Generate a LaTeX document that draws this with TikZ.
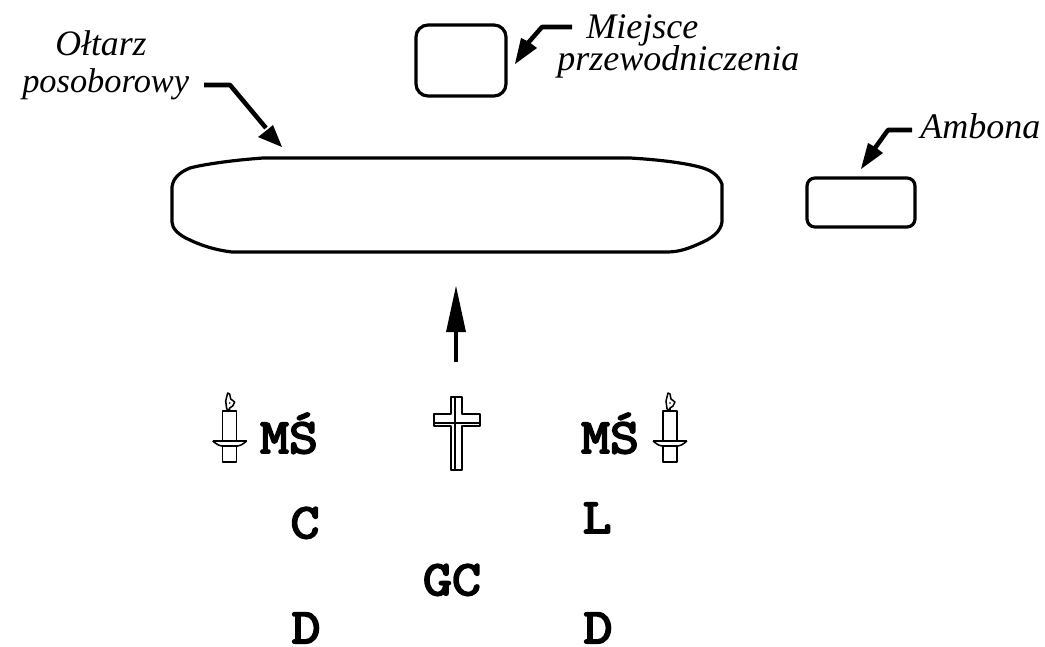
\documentclass[tikz,border=0pt]{standalone}
\usepackage{fontspec}
\setmainfont{Liberation Serif}
\newfontfamily\slabfont[FakeBold=4,FakeStretch=1.14]{Latin Modern Mono}
\begin{document}
\begin{tikzpicture}[x=0.75pt,y=-0.75pt,line join=round,
  outline/.style={draw=black,line width=2.4pt},
  leader/.style={draw=black,line width=3.4pt},
  headfill/.style={fill=black,draw=none},
  thin part/.style={draw=black,line width=1.15pt},
  cross part/.style={draw=black,line width=1.5pt},
  lab/.style={inner sep=0pt,anchor=base west,font=\itshape},
  letter/.style={inner sep=0pt,anchor=base,font=\slabfont\fontsize{37}{37}\selectfont}]
\useasboundingbox[fill=white] (0,0) rectangle (1045,646);
% furniture
\draw[outline] (263,158) -- (630,158) .. controls (665,160) and (690,164) .. (703,168) .. controls (712,171) and (718,175) .. (722,184) -- (722,218) .. controls (723,228) and (716,236) .. (703,242) .. controls (690,248) and (680,252) .. (667,252) -- (232,252) .. controls (215,250) and (200,245) .. (190,240) .. controls (178,235) and (172,228) .. (172,222) -- (172,187) .. controls (173,178) and (180,172) .. (190,168) .. controls (205,164) and (235,160) .. (263,158) -- cycle;
\draw[outline,rounded corners=9pt] (416,25) rectangle (506,96);
\draw[outline,rounded corners=6pt] (807,178) rectangle (915,227);
% labels
\node[lab,font=\itshape\fontsize{26.8}{26.8}\selectfont] (oltarz) at (55,55) {Ołtarz};
\node[lab,font=\itshape\fontsize{25.8}{25.8}\selectfont] (posoborowy) at (22,92) {posoborowy};
\node[lab,font=\itshape\fontsize{27}{27}\selectfont] (miejsce) at (586,38) {Miejsce};
\node[lab,font=\itshape\fontsize{27}{27}\selectfont] (przew) at (557,70) {przewodniczenia};
\node[lab,font=\itshape\fontsize{27}{27}\selectfont] (ambona) at (920,138) {Ambona};
% leaders
\coordinate (a1) at (204,85); \coordinate (a2) at (230,85); \coordinate (a3) at (266,128); \coordinate (a4) at (282,147);
\draw[leader] (a1) -- (a2) -- (a3);
\fill[headfill] (a4) -- (258,137) -- (267,130) -- (273,125) -- cycle;
\coordinate (m1) at (572,27); \coordinate (m2) at (542,27); \coordinate (m3) at (528,43); \coordinate (m4) at (515,64);
\draw[leader] (m1) -- (m2) -- (m3);
\fill[headfill] (m4) -- (521,38) -- (529,42) -- (537,48) -- cycle;
\coordinate (b1) at (912,130); \coordinate (b2) at (888,130); \coordinate (b3) at (875,148); \coordinate (b4) at (861,169);
\draw[leader] (b1) -- (b2) -- (b3);
\fill[headfill] (b4) -- (868,143) -- (875,147) -- (883,153) -- cycle;
% main arrow
\coordinate (up1) at (456,362); \coordinate (up2) at (456,330); \coordinate (up3) at (456,286);
\draw[draw=black,line width=3.6pt] (up1) -- (up2);
\fill[headfill] (up3) -- (446,332) -- (466,332) -- cycle;
% cross
\draw[cross part] (451,397) -- (462,397) -- (462,414) -- (480,414) -- (480,426) -- (462,426) -- (462,470) -- (451,470) -- (451,426) -- (434,426) -- (434,414) -- (451,414) -- cycle;
\draw[cross part] (454.5,397) -- (454.5,470);
\draw[cross part] (434,422.5) -- (480,422.5);
% candles
\foreach \cx in {229.7,670}{
  \begin{scope}[xshift=\cx*0.75pt]
    \draw[thin part] (-7,411) rectangle (7,441);
    \draw[thin part] (-7,446) rectangle (7,462);
    \draw[thin part] (-17,441) -- (17,441);
    \draw[thin part] (-17,441) .. controls (-12,445) and (-10,446) .. (-8,446) -- (8,446) .. controls (10,446) and (12,445) .. (17,441);
    \draw[thin part,fill=white] (-3,409) -- (-4,401) -- (-2,393) -- (0,394) -- (1,399) -- (5,402) -- (3,406) -- (0,408) -- (0,410) -- cycle;
    \fill (0,403) circle (0.9);
  \end{scope}
}
% letters
\node[letter] (msl) at (289,453) {MŚ};
\node[letter] (msr) at (610,453) {MŚ};
\node[letter] (c) at (305,538) {C};
\node[letter] (l) at (597,533) {L};
\node[letter] (gc) at (452,595) {GC};
\node[letter] (dl) at (306,643) {D};
\node[letter] (dr) at (598,643) {D};
\end{tikzpicture}
\end{document}
